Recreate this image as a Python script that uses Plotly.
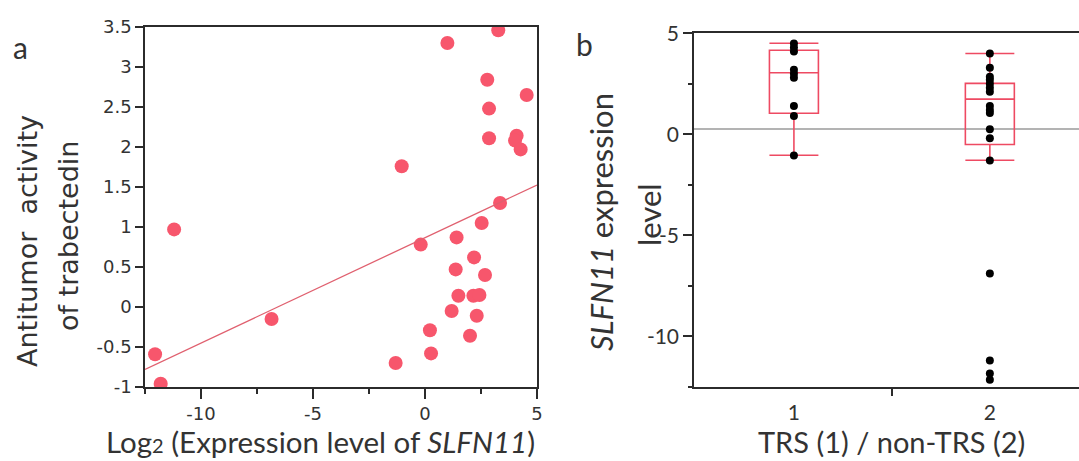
import plotly.graph_objects as go

# ---------------- Data ----------------
# Panel a: Log2(SLFN11 expression) vs antitumor activity of trabectedin
scatter_x = [-11.2, -12.05, -11.8, -6.85, -0.19, -1.31, 0.22, 0.27, 1.19, 1.37,
             1.41, 1.49, 2.01, 2.19, 2.16, 2.43, 2.31, 2.68, 2.53, 3.35,
             -1.04, 1.0, 3.27, 2.78, 2.86, 2.86, 4.09, 4.02, 4.27, 4.54]
scatter_y = [0.97, -0.59, -0.96, -0.15, 0.78, -0.70, -0.29, -0.58, -0.05, 0.47,
             0.87, 0.14, -0.36, 0.62, 0.14, 0.15, -0.11, 0.40, 1.05, 1.30,
             1.76, 3.30, 3.46, 2.84, 2.48, 2.11, 2.14, 2.08, 1.97, 2.65]
# regression line end points
fit_x = [-12.5, 5.0]
fit_y = [-0.78, 1.525]

ya_tickvals = [-1, -0.5, 0, 0.5, 1, 1.5, 2, 2.5, 3, 3.5]
ya_ticktext = ["-1", "-0.5", "0", "0.5", "1", "1.5", "2", "2.5", "3", "3.5"]
xa_tickvals = [-10, -5, 0, 5]
xa_ticktext = ["-10", "-5", "0", "5"]

# Panel b: SLFN11 expression by group
group_names = ["1", "2"]
group_pos = [1, 2]
trs_values = [4.5, 4.3, 4.1, 3.2, 3.0, 2.8, 1.4, 0.9, -1.05]
nontrs_values = [4.0, 3.3, 2.85, 2.7, 2.5, 2.3, 2.1, 1.4, 1.2, 1.05, 0.25, -0.2,
                 -1.3, -6.9, -11.2, -11.85, -12.15]
box_q1 = [1.04, -0.51]
box_median = [3.05, 1.74]
box_q3 = [4.16, 2.52]
box_lower = [-1.04, -1.29]
box_upper = [4.51, 4.0]
overall_mean = 0.26

yb_tickvals = [-10, -5, 0, 5]
yb_ticktext = ["-10", "-5", "0", "5"]

# ---------------- Layout helpers ----------------
W, H = 1079, 461


def px(x):
    return x / W


def py(y):
    return (H - y) / H


RED = "#F7566C"
BOX_RED = "#EE4A62"
AX = "#2b2b2b"
TXT = "#333333"
VERDANA = "DejaVu Sans"
CALIBRI = "Lato"

fig = go.Figure()

# Panel a
fig.add_trace(go.Scatter(
    x=scatter_x, y=scatter_y, mode="markers",
    marker=dict(size=14, color=RED, line=dict(width=0)),
    xaxis="x", yaxis="y", showlegend=False))
fig.add_trace(go.Scatter(
    x=fit_x, y=fit_y, mode="lines",
    line=dict(color="#E0606F", width=1.3),
    xaxis="x", yaxis="y", showlegend=False))

# Panel b boxes
fig.add_trace(go.Box(
    x=group_pos, q1=box_q1, median=box_median, q3=box_q3,
    lowerfence=box_lower, upperfence=box_upper,
    width=0.25, whiskerwidth=1,
    line=dict(color=BOX_RED, width=1.6),
    fillcolor="rgba(0,0,0,0)", boxpoints=False,
    xaxis="x2", yaxis="y2", showlegend=False))
fig.add_trace(go.Scatter(
    x=[group_pos[0]] * len(trs_values) + [group_pos[1]] * len(nontrs_values),
    y=trs_values + nontrs_values, mode="markers",
    marker=dict(size=8, color="black"),
    xaxis="x2", yaxis="y2", showlegend=False))

fig.add_shape(type="line", xref="x2 domain", yref="y2",
              x0=0, x1=1, y0=overall_mean, y1=overall_mean,
              line=dict(color="#9a9a9a", width=1.6), layer="below")

tickfont_a = dict(family=VERDANA, size=18, color=TXT)
tickfont_b = dict(family=CALIBRI, size=21, color=TXT)

fig.update_layout(
    width=W, height=H,
    margin=dict(l=0, r=0, t=0, b=0, autoexpand=False),
    paper_bgcolor="white", plot_bgcolor="white",
    xaxis=dict(
        domain=[px(145), px(537)], range=[-12.5, 5], anchor="y",
        automargin=False,
        showline=True, linecolor=AX, linewidth=1.5, mirror=True,
        showgrid=False, zeroline=False,
        tickmode="array", tickvals=xa_tickvals, ticktext=xa_ticktext,
        ticks="outside", ticklen=10, tickcolor=AX, tickwidth=1.5,
        minor=dict(dtick=2.5, tick0=0, ticks="outside", ticklen=5,
                   tickcolor=AX, tickwidth=1.5),
        tickfont=tickfont_a),
    yaxis=dict(
        domain=[py(387), py(27)], range=[-1, 3.5], anchor="x",
        automargin=False,
        showline=True, linecolor=AX, linewidth=1.5, mirror=True,
        showgrid=False, zeroline=False,
        tickmode="array", tickvals=ya_tickvals, ticktext=ya_ticktext,
        ticks="outside", ticklen=8, tickcolor=AX, tickwidth=1.5,
        tickfont=tickfont_a),
    xaxis2=dict(
        domain=[px(694), 1.0], range=[0.49, 2.455], anchor="y2",
        automargin=False,
        showline=True, linecolor=AX, linewidth=1.5, mirror=True,
        showgrid=False, zeroline=False,
        tickmode="array", tickvals=group_pos, ticktext=group_names,
        ticks="outside", ticklen=6, tickcolor="rgba(0,0,0,0)",
        minor=dict(tickmode="array", tickvals=[1.5], ticks="outside",
                   ticklen=8, tickcolor=AX, tickwidth=1.5),
        tickfont=tickfont_b),
    yaxis2=dict(
        domain=[py(386.7), py(33.3)], range=[-12.5, 5], anchor="x2",
        automargin=False,
        showline=True, linecolor=AX, linewidth=1.5,
        showgrid=False, zeroline=False,
        tickmode="array", tickvals=yb_tickvals, ticktext=yb_ticktext,
        ticks="outside", ticklen=9, tickcolor=AX, tickwidth=1.5,
        minor=dict(dtick=2.5, tick0=0, ticks="outside", ticklen=4,
                   tickcolor=AX, tickwidth=1.5),
        tickfont=tickfont_b),
)


def ann(text, x, y, family, size, angle=0):
    fig.add_annotation(
        text=text, x=px(x), y=py(y), xref="paper", yref="paper",
        xanchor="center", yanchor="middle", showarrow=False,
        textangle=angle, font=dict(family=family, size=size, color=TXT))


ann("a", 20, 47, CALIBRI, 30)
ann("b", 584, 44, CALIBRI, 30)
ann("Antitumor  activity", 27, 241, VERDANA, 27, -90)
ann("of trabectedin", 68, 236, VERDANA, 27, -90)
ann("Log<span style='font-size:20px'>2</span> (Expression level of <i>SLFN11</i>)",
    320, 441, CALIBRI, 29.5)
ann("<i>SLFN11</i> expression", 601, 222, CALIBRI, 31, -90)
ann("level", 649, 215, CALIBRI, 31, -90)
ann("TRS (1) / non-TRS (2)", 891, 441, CALIBRI, 29)

fig.write_html("out.html", config={"displayModeBar": False},
               post_script="document.body.style.margin='0px';")
